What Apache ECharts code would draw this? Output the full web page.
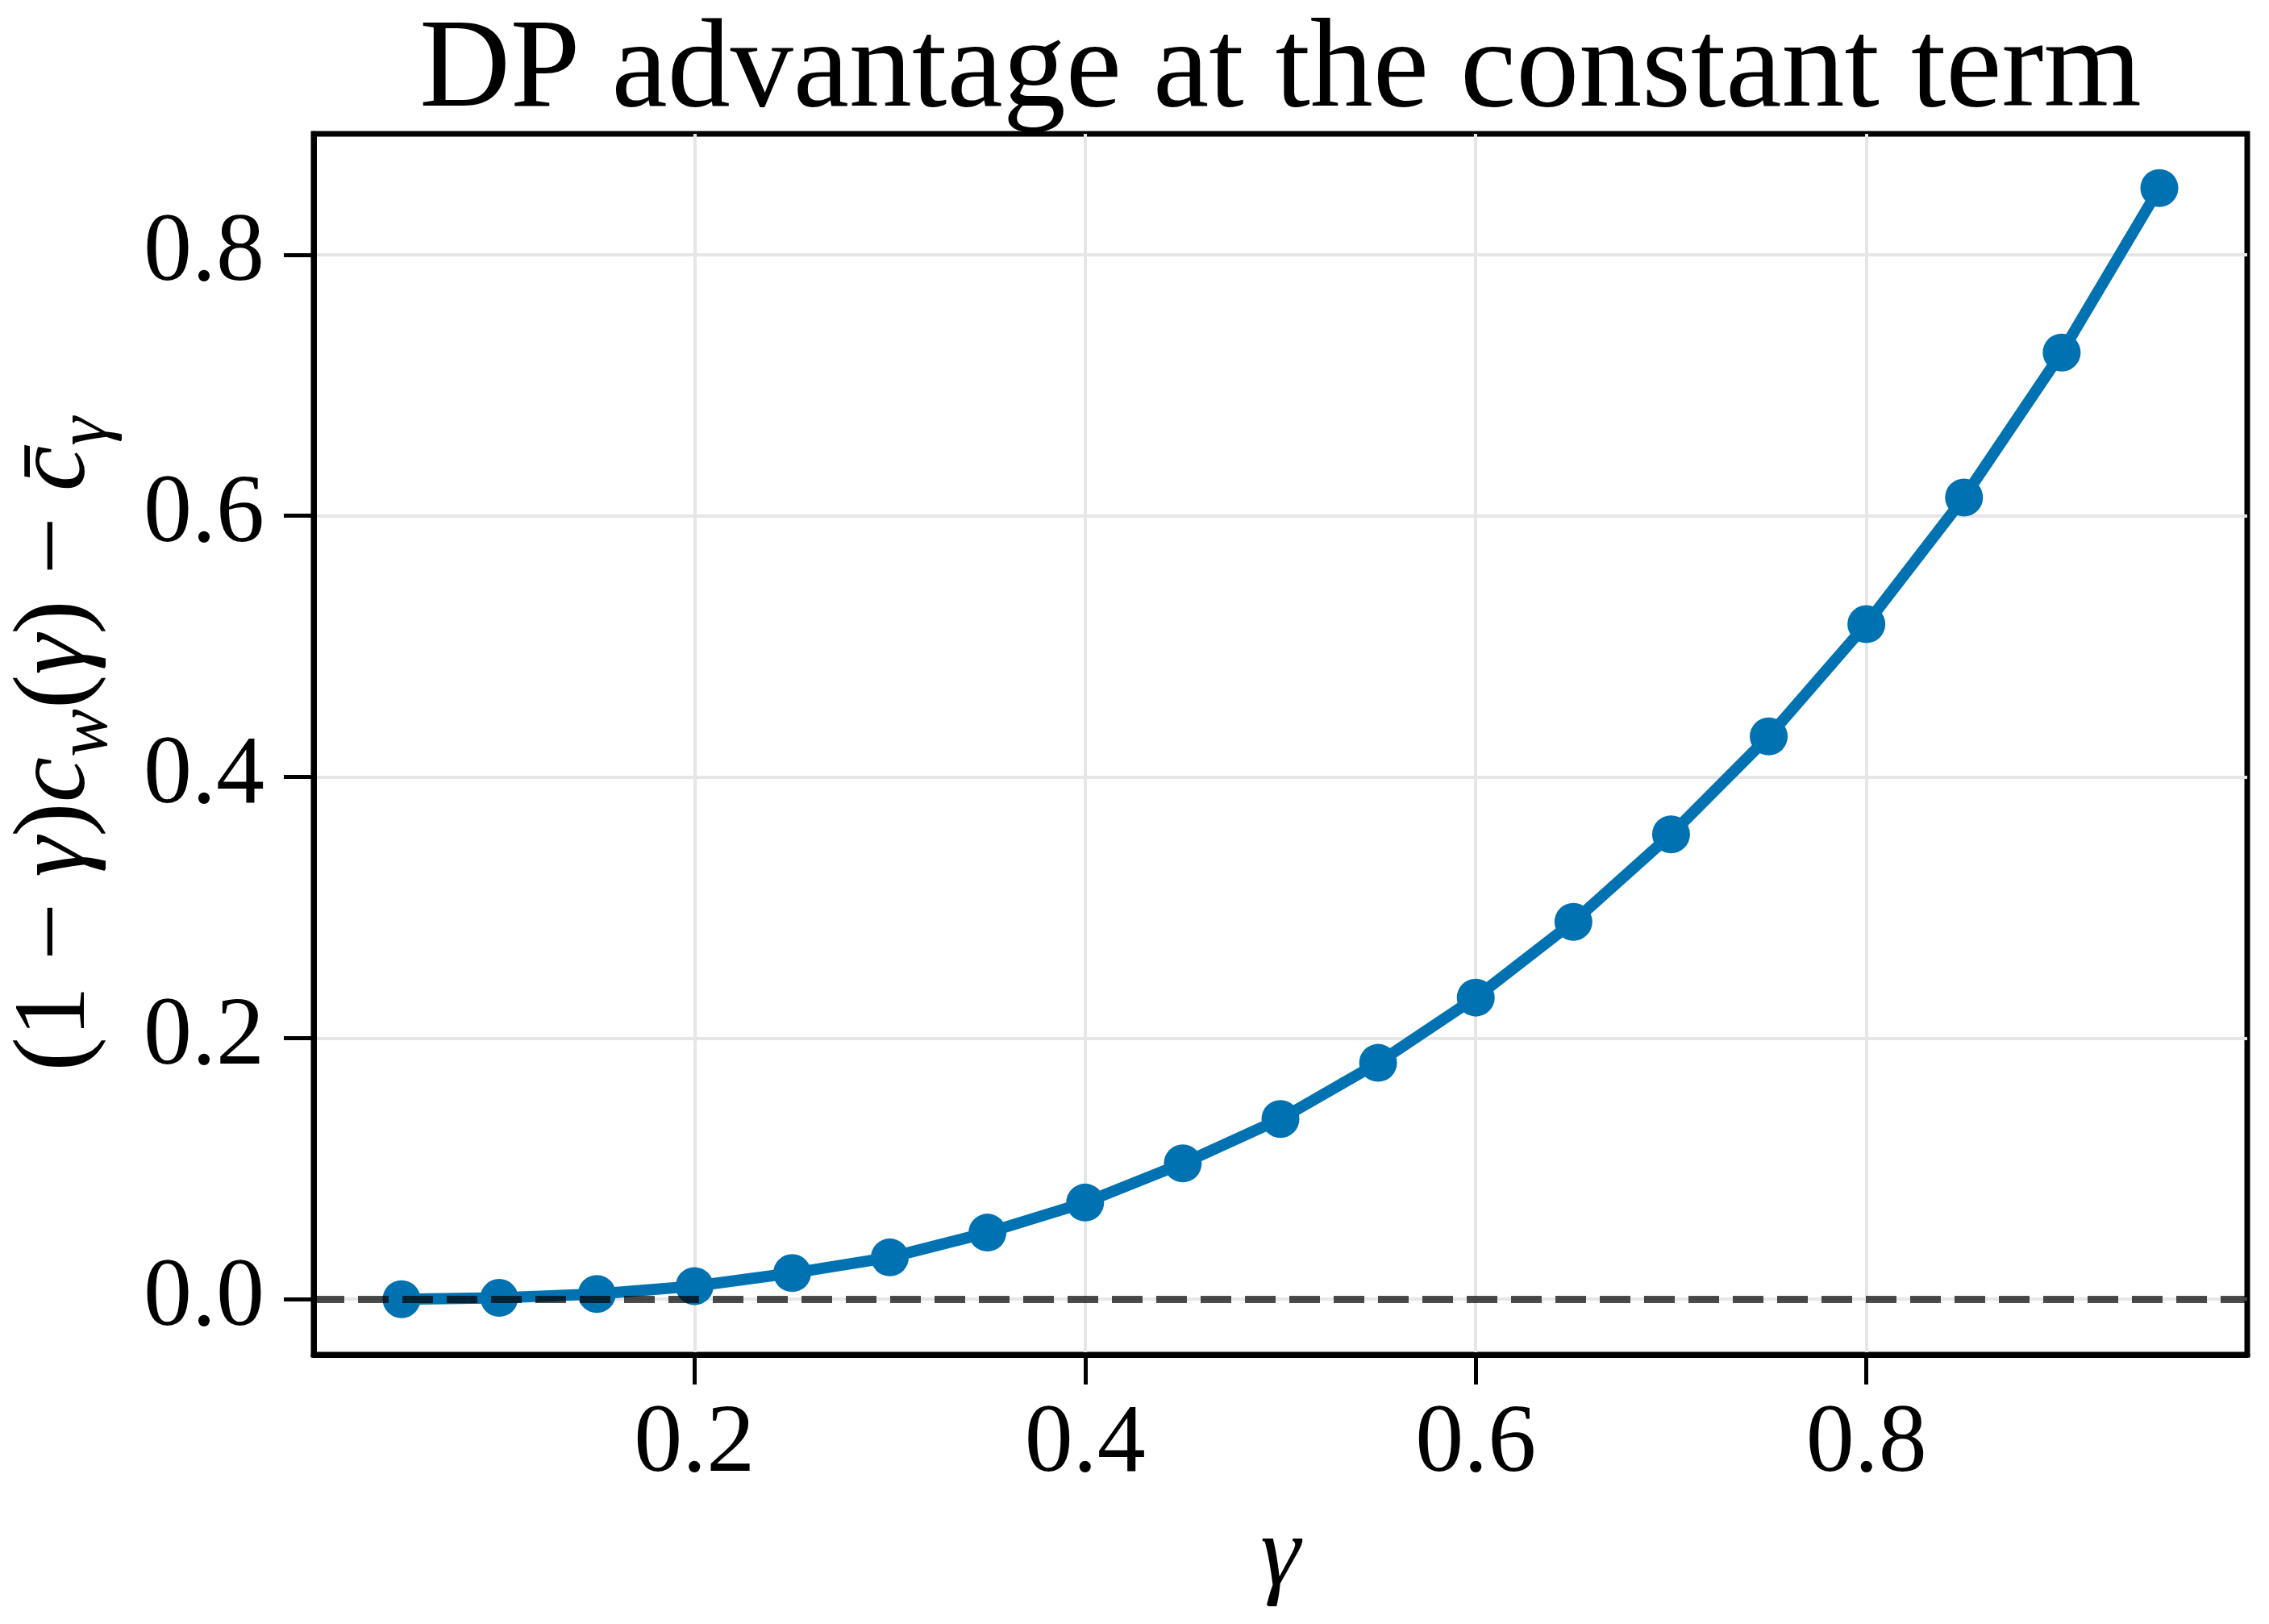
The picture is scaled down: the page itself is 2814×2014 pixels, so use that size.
<!DOCTYPE html>
<html><head><meta charset="utf-8">
<script src="https://cdn.jsdelivr.net/npm/echarts@6/dist/echarts.min.js"></script>
<style>html,body{margin:0;padding:0;background:#fff}#c{width:2814px;height:2014px}</style>
</head><body><div id="c"></div>
<script>
const titleText = 'DP advantage at the constant term';
const gammaValues = [0.05, 0.10, 0.15, 0.20, 0.25, 0.30, 0.35, 0.40, 0.45, 0.50, 0.55, 0.60, 0.65, 0.70, 0.75, 0.80, 0.85, 0.90, 0.95];
const advantage = [0.000, 0.001, 0.004, 0.010, 0.020, 0.032, 0.051, 0.074, 0.104, 0.138, 0.181, 0.231, 0.289, 0.356, 0.431, 0.517, 0.614, 0.725, 0.851];
const xTicks = [0.2, 0.4, 0.6, 0.8];
const yTicks = [0.0, 0.2, 0.4, 0.6, 0.8];
const refLineValue = 0;

const FONT = "'Liberation Serif', 'DejaVu Serif', serif";
const chart = echarts.init(document.getElementById('c'), null, {renderer: 'canvas'});
const pairs = gammaValues.map((g, i) => [g, advantage[i]]);
const GRID = {left: 389, right: 27, top: 166, bottom: 334};
const plotCenterX = GRID.left + (2814 - GRID.left - GRID.right) / 2;

chart.setOption({
  animation: false,
  backgroundColor: '#ffffff',
  graphic: [{
    type: 'text',
    x: plotCenterX,
    y: 12,
    silent: true,
    style: {
      text: titleText,
      fontFamily: FONT, fontSize: 156, fontWeight: 'normal', fill: '#000',
      textAlign: 'center', textVerticalAlign: 'top'
    }
  }],
  grid: Object.assign({
    show: true, borderColor: '#000', borderWidth: 7, backgroundColor: 'transparent',
    containLabel: false, outerBoundsMode: 'none'
  }, GRID),
  xAxis: {
    type: 'value', min: 0.005, max: 0.995,
    name: 'γ', nameLocation: 'middle', nameGap: 190,
    nameTextStyle: {fontFamily: FONT, fontSize: 125, fontStyle: 'italic', color: '#000'},
    axisLine: {show: true, onZero: false, lineStyle: {color: '#000', width: 7}},
    axisTick: {show: true, inside: false, length: 37, customValues: xTicks, lineStyle: {color: '#000', width: 5}},
    axisLabel: {customValues: xTicks, margin: 52, fontFamily: FONT, fontSize: 120, color: '#000',
      formatter: v => v.toFixed(1)},
    splitLine: {show: true, lineStyle: {color: '#e6e6e6', width: 4}}
  },
  yAxis: {
    type: 'value', min: -0.0425, max: 0.8925,
    name: '{n|(1 − }{i|γ}{n|)}{i|c}{s|w}{n|(}{i|γ}{n|) − }{i|c̄}{s|γ}',
    nameLocation: 'middle', nameRotate: 90, nameGap: 243,
    nameTextStyle: {
      fontFamily: FONT, fontSize: 127, color: '#000',
      rich: {
        n: {fontFamily: FONT, fontSize: 127, color: '#000', lineHeight: 150},
        i: {fontFamily: FONT, fontSize: 127, fontStyle: 'italic', color: '#000', lineHeight: 150},
        s: {fontFamily: FONT, fontSize: 90, fontStyle: 'italic', color: '#000', lineHeight: 106, padding: [74, 0, 0, 0]}
      }
    },
    axisLine: {show: true, onZero: false, lineStyle: {color: '#000', width: 7}},
    axisTick: {show: true, inside: false, length: 37, customValues: yTicks, lineStyle: {color: '#000', width: 5}},
    axisLabel: {customValues: yTicks, margin: 61, fontFamily: FONT, fontSize: 120, color: '#000',
      formatter: v => v.toFixed(1)},
    splitLine: {show: true, lineStyle: {color: '#e6e6e6', width: 4}}
  },
  series: [{
    type: 'line',
    data: pairs,
    symbol: 'circle',
    symbolSize: 47,
    lineStyle: {color: '#0072B2', width: 14},
    itemStyle: {color: '#0072B2'},
    z: 3,
    markLine: {
      silent: true,
      symbol: 'none',
      z: 5,
      label: {show: false},
      lineStyle: {color: 'rgba(0,0,0,0.7)', width: 9, type: [38, 17]},
      data: [{yAxis: refLineValue}]
    }
  }]
});
</script></body></html>
